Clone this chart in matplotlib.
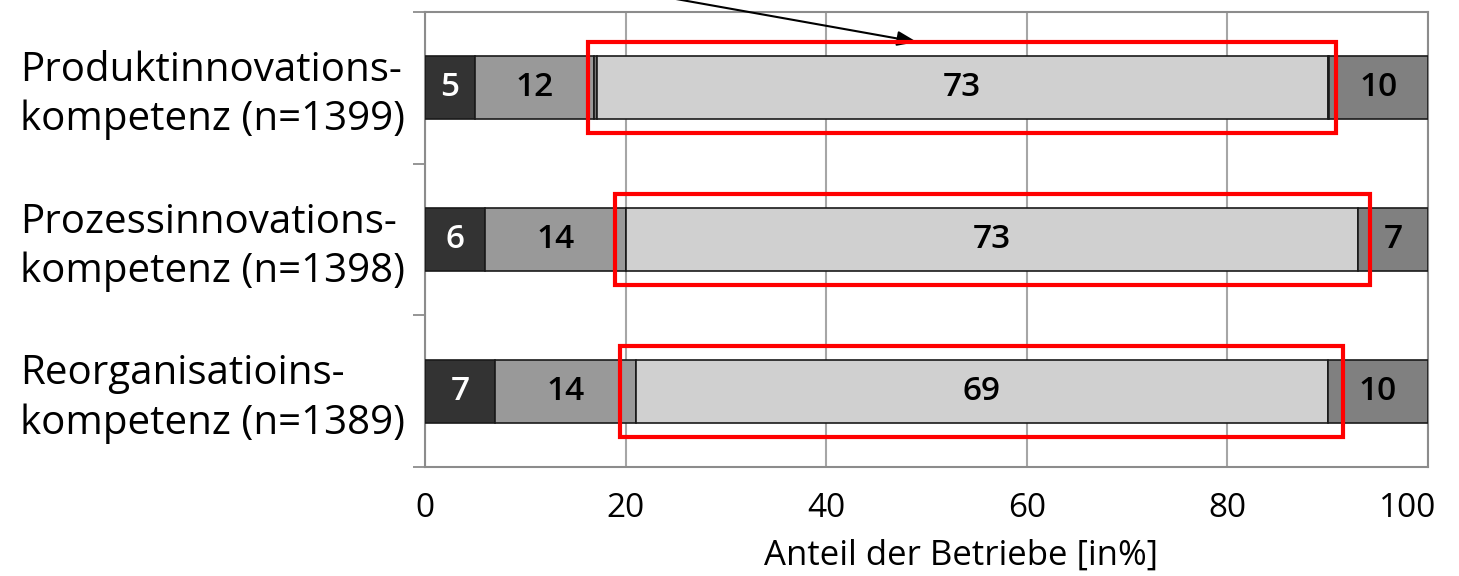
import matplotlib
matplotlib.use("Agg")
import matplotlib.pyplot as plt
from matplotlib.patches import Rectangle
import matplotlib.transforms as mtransforms
import numpy as np

plt.rcParams['font.family'] = ['Open Sans', 'DejaVu Sans']

# ---- data ----
categories = ["Produktinnovations-\nkompetenz (n=1399)",
              "Prozessinnovations-\nkompetenz (n=1398)",
              "Reorganisatioins-\nkompetenz (n=1389)"]
seg_dark = [5.0, 6.0, 7.0]
seg_gray = [11.8, 14.0, 14.0]
seg_thin1 = [0.3, 0.0, 0.0]
seg_light = [72.9, 73.0, 69.0]
seg_thin2 = [0.1, 0.0, 0.0]
seg_right = [9.9, 7.0, 10.0]
xticks = [0, 20, 40, 60, 80, 100]
xlabel = "Anteil der Betriebe [in%]"
# highlight boxes (x range in %) around the middle segments
box_x0 = [16.25, 18.9, 19.4]
box_x1 = [90.8, 94.2, 91.5]

series = [
    (seg_dark, '#333333', 'white', True),
    (seg_gray, '#999999', 'black', True),
    (seg_thin1, '#777777', 'black', False),
    (seg_light, '#d0d0d0', 'black', True),
    (seg_thin2, '#777777', 'black', False),
    (seg_right, '#808080', 'black', True),
]

W, H = 1459, 576
fig = plt.figure(figsize=(W / 100, H / 100), dpi=100)
ax = fig.add_axes([425 / W, 1 - 467 / H, (1428 - 425) / W, (467 - 12) / H])

y = np.arange(len(categories))
left = np.zeros(len(categories))
bar_h = 0.415
for vals, col, tcol, lab in series:
    vals = np.array(vals)
    ax.barh(y, vals, left=left, height=bar_h, color=col,
            edgecolor='#1a1a1a', linewidth=1.2, zorder=3)
    if lab:
        for yi, (v, l) in enumerate(zip(vals, left)):
            ax.text(l + v / 2, yi, f"{v:.0f}", ha='center', va='center',
                    fontsize=24, color=tcol, fontweight='semibold', zorder=5)
    left = left + vals

ax.set_xlim(0, 100)
ax.set_ylim(2.5, -0.5)
ax.set_xticks(xticks)
ax.set_xticklabels([str(t) for t in xticks], fontsize=24)
ax.tick_params(axis='x', length=0, pad=18)
last = ax.get_xticklabels()[-1]
last.set_transform(last.get_transform() +
                   mtransforms.ScaledTranslation(-20 / 100, 0, fig.dpi_scale_trans))
ax.set_yticks([-0.5, 0.5, 1.5, 2.5])
ax.set_yticklabels([])
ax.tick_params(axis='y', length=8.6, width=1.3, color='#8c8c8c', direction='out')
ax.grid(axis='x', color='#a6a6a6', linewidth=1.5, zorder=0)
ax.set_axisbelow(True)
for s in ax.spines.values():
    s.set_color('#8c8c8c')
    s.set_linewidth(1.5)

ax.set_xlabel(xlabel, fontsize=25, va='top')
ax.xaxis.set_label_coords(0.534, -0.158)

# category labels
trans = mtransforms.blended_transform_factory(fig.transFigure, ax.transData)
for yi, cat in enumerate(categories):
    ax.text(20 / W, yi + 0.05, cat, transform=trans, ha='left', va='center',
            fontsize=29, linespacing=1.28, clip_on=False)

# red highlight boxes
for yi, (x0, x1) in enumerate(zip(box_x0, box_x1)):
    ax.add_patch(Rectangle((x0, yi - 0.30), x1 - x0, 0.60, fill=False,
                           edgecolor='#ff0000', linewidth=3, zorder=6,
                           clip_on=False))

# arrow pointing to the top box
ax.annotate("", xy=(917, H - 42), xycoords='figure pixels',
            xytext=(620, H + 11), textcoords='figure pixels',
            arrowprops=dict(arrowstyle='-|>,head_length=1.2,head_width=0.45',
                            color='black', lw=1.5, shrinkA=0, shrinkB=0),
            annotation_clip=False)

fig.savefig("out.png", dpi=100)
